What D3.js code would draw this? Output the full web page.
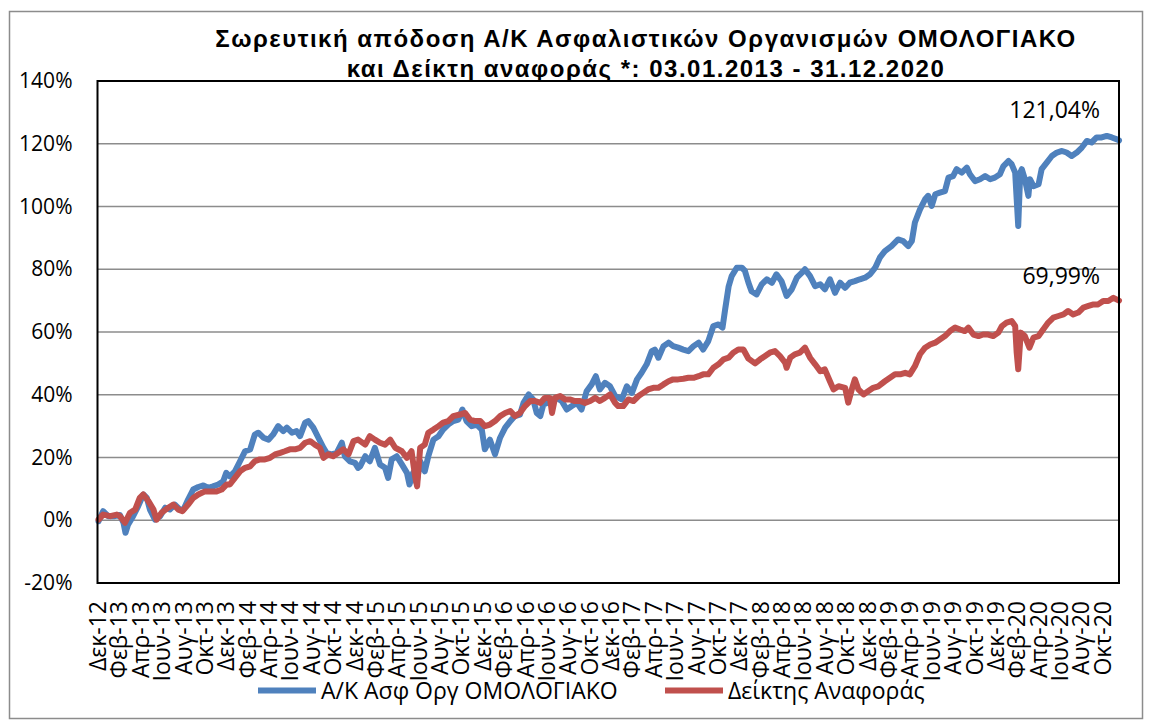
<!DOCTYPE html>
<html><head><meta charset="utf-8">
<script src="https://cdn.jsdelivr.net/npm/d3@7"></script>
<style>
html,body{margin:0;padding:0;background:#fff;}
svg{display:block;}
</style></head>
<body>
<svg id="chart" width="1152" height="723"></svg>
<script>
// ---------- DATA (x = trading-day index since 31.12.2012, y = cumulative return %) ----------
const titleLines = ["Σωρευτική απόδοση Α/Κ Ασφαλιστικών Οργανισμών ΟΜΟΛΟΓΙΑΚΟ",
                    "και Δείκτη αναφοράς *: 03.01.2013 - 31.12.2020"];
const seriesNames = ["Α/Κ Ασφ Οργ ΟΜΟΛΟΓΙΑΚΟ", "Δείκτης Αναφοράς"];
const endLabels = ["121,04%", "69,99%"];
const yTicks = [-20, 0, 20, 40, 60, 80, 100, 120, 140];
const totalDays = 2007;     // last trading-day index (31.12.2020)
const labelEvery = 42;      // a category label every 42 trading days
const xTickLabels = [
 "Δεκ-12",
 "Φεβ-13","Απρ-13","Ιουν-13","Αυγ-13","Οκτ-13","Δεκ-13",
 "Φεβ-14","Απρ-14","Ιουν-14","Αυγ-14","Οκτ-14","Δεκ-14",
 "Φεβ-15","Απρ-15","Ιουν-15","Αυγ-15","Οκτ-15","Δεκ-15",
 "Φεβ-16","Απρ-16","Ιουν-16","Αυγ-16","Οκτ-16","Δεκ-16",
 "Φεβ-17","Απρ-17","Ιουν-17","Αυγ-17","Οκτ-17","Δεκ-17",
 "Φεβ-18","Απρ-18","Ιουν-18","Αυγ-18","Οκτ-18","Δεκ-18",
 "Φεβ-19","Απρ-19","Ιουν-19","Αυγ-19","Οκτ-19","Δεκ-19",
 "Φεβ-20","Απρ-20","Ιουν-20","Αυγ-20","Οκτ-20"];

const fundDays = [2,11,21,34,44,51,55,60,70,80,90,97,103,113,123,133,142,152,162,169,178,188,198,208,218,227,237,247,253,260,270,280,290,300,309,316,326,336,345,355,365,372,382,391,398,408,414,424,434,444,450,460,470,480,486,496,506,512,516,526,535,545,555,565,571,578,588,598,608,613,620,627,634,643,650,660,670,679,689,699,709,717,725,735,745,755,761,771,781,791,801,811,820,830,837,847,856,863,870,876,883,893,902,912,922,932,942,951,961,971,979,987,997,1007,1017,1030,1040,1050,1060,1069,1079,1089,1095,1102,1112,1122,1131,1141,1151,1161,1171,1181,1190,1200,1210,1220,1228,1233,1240,1246,1256,1266,1272,1279,1285,1295,1305,1315,1325,1334,1344,1354,1364,1374,1384,1390,1400,1410,1420,1429,1439,1449,1459,1469,1478,1488,1498,1508,1518,1528,1537,1547,1560,1573,1583,1593,1600,1606,1616,1626,1632,1639,1646,1655,1665,1672,1681,1688,1698,1708,1714,1724,1734,1744,1754,1763,1773,1780,1790,1796,1803,1806,1809,1813,1816,1822,1829,1832,1839,1849,1855,1865,1875,1885,1895,1904,1914,1924,1934,1944,1953,1963,1973,1983,1993,2003,2007];
const fundValues = [-0.3,2.9,1.3,1.3,1.7,-0.8,-4.0,-1.4,1.3,4.5,8.2,7.1,3.4,0.2,1.3,4.0,3.4,5.0,3.4,3.4,6.6,9.8,10.6,11.1,10.3,10.8,11.4,12.4,15.1,14.0,15.6,18.8,22.0,22.6,27.3,27.9,26.3,25.7,27.3,30.0,28.4,29.5,27.9,28.4,26.8,31.1,31.6,29.5,26.3,23.1,21.5,21.0,21.5,24.7,20.4,18.8,18.3,16.7,17.2,20.4,18.8,23.1,17.8,16.7,13.5,19.4,20.4,17.8,15.1,11.4,15.1,11.9,18.8,15.6,20.4,25.7,26.8,28.9,30.5,31.6,32.1,35.3,31.6,30.0,30.5,28.9,22.6,25.7,21.0,26.3,29.5,31.6,33.2,33.7,37.4,40.1,38.5,34.2,33.2,36.9,37.4,38.0,39.0,38.0,35.3,36.4,37.4,35.3,41.1,43.3,45.9,41.7,43.8,42.7,39.6,38.5,42.7,40.6,44.9,47.0,49.7,53.9,54.4,51.8,55.5,56.6,55.5,55.0,54.4,53.9,55.5,56.6,54.4,57.1,61.9,62.4,61.4,67.0,74.5,77.8,80.5,80.5,79.5,75.7,73.0,72.0,75.2,76.8,75.7,78.4,76.2,71.5,73.6,77.3,78.9,80.0,77.8,74.6,75.2,73.6,76.8,72.5,75.7,74.1,75.7,76.2,76.8,77.3,78.4,80.5,83.7,85.8,87.4,89.5,89.0,87.4,89.0,94.9,99.1,102.3,103.4,100.2,103.9,104.4,104.9,109.2,109.7,111.9,110.8,112.4,110.3,108.1,108.7,109.7,108.7,109.2,110.3,112.9,114.5,113.5,110.8,102.3,93.8,110.8,111.9,108.7,103.4,108.7,106.5,107.1,111.9,114.0,116.1,117.2,117.7,117.2,116.1,117.2,118.8,120.9,120.4,122.0,122.0,122.5,122.0,121.4,121.04];

const benchDays = [2,11,25,38,44,54,64,74,83,90,100,110,116,126,139,149,159,167,178,188,198,211,224,234,244,254,260,270,280,290,300,309,319,329,339,349,359,368,378,388,398,408,418,427,437,444,453,463,473,483,493,503,512,526,535,545,555,565,575,585,598,608,617,624,628,634,643,650,660,670,679,689,699,712,722,732,742,752,761,771,781,791,801,811,820,830,840,850,860,870,879,889,893,899,909,919,928,938,948,958,968,978,987,997,1007,1017,1023,1033,1043,1053,1063,1072,1082,1092,1102,1112,1122,1131,1141,1151,1161,1171,1181,1190,1200,1210,1220,1230,1240,1249,1259,1269,1279,1292,1302,1311,1321,1331,1341,1351,1354,1361,1370,1380,1390,1400,1410,1420,1429,1439,1446,1456,1469,1475,1482,1488,1495,1505,1514,1524,1534,1547,1557,1567,1577,1587,1596,1606,1616,1626,1636,1646,1655,1665,1675,1685,1695,1704,1711,1721,1731,1740,1750,1760,1770,1777,1786,1796,1803,1806,1809,1814,1822,1831,1839,1849,1858,1868,1878,1888,1898,1907,1917,1927,1937,1947,1957,1966,1976,1986,1996,2007];
const benchValues = [0.2,1.8,1.3,1.8,1.3,-0.8,2.4,3.4,7.1,8.2,6.1,3.4,0.2,2.4,4.0,5.0,3.4,2.9,5.0,7.1,8.2,9.2,9.2,9.2,9.8,11.4,11.4,13.5,15.6,16.7,17.2,18.8,19.4,19.4,19.9,21.0,21.5,22.0,22.6,22.6,23.1,24.7,25.2,24.1,23.1,19.9,21.0,20.4,21.5,22.6,21.0,25.2,25.7,24.1,26.8,25.7,24.7,24.1,25.7,23.1,22.0,19.9,22.0,14.0,10.8,23.1,24.1,27.9,28.9,30.0,31.1,31.6,33.2,33.7,34.2,32.1,31.6,31.6,30.0,30.5,31.6,33.2,34.2,34.8,33.2,34.2,36.4,38.0,38.0,37.4,39.0,39.0,34.2,39.0,39.6,38.5,38.5,38.0,38.0,37.4,38.0,39.0,38.0,39.0,40.1,37.4,36.4,36.4,38.5,38.0,39.6,40.6,41.7,42.2,42.2,43.3,44.3,44.9,44.9,45.1,45.4,45.4,45.9,46.5,46.5,48.6,49.7,51.3,51.8,53.4,54.4,54.4,51.5,50.0,51.3,52.3,53.4,53.9,52.3,50.2,48.6,51.8,52.9,53.4,55.0,51.8,49.7,47.5,48.1,44.3,41.7,42.7,42.2,37.5,41.7,44.9,41.7,40.1,41.1,42.2,42.7,44.3,45.4,46.5,46.5,47.0,46.5,49.1,52.9,55.0,56.0,56.6,57.6,58.7,60.3,61.4,60.8,60.3,61.4,59.2,58.7,59.2,59.2,58.7,59.8,61.9,63.0,63.5,61.9,53.4,48.1,59.8,58.7,55.0,58.2,58.7,60.8,63.0,64.6,65.1,65.6,66.7,65.6,66.2,67.8,68.3,68.8,68.8,69.9,69.9,70.9,69.99];

// ---------- LAYOUT ----------
const svg = d3.select("#chart");
const L = 97.5, R = 1119, T = 81, B = 583;
const x = d3.scaleLinear().domain([0, totalDays]).range([L, R]);
const y = d3.scaleLinear().domain([-20, 140]).range([B, T]);
const blue = "#4F81BD", red = "#C0504D";
const labelFont = "'Open Sans', sans-serif";

// outer frame
svg.append("rect").attr("x", 9.5).attr("y", 11.5).attr("width", 1133).attr("height", 707)
  .attr("fill", "none").attr("stroke", "#8c8c8c").attr("stroke-width", 1.5);

// title
svg.selectAll("text.title").data(titleLines).join("text")
  .attr("class", "title")
  .attr("x", 646).attr("y", (d, i) => 47 + i * 30)
  .attr("text-anchor", "middle")
  .attr("font-family", "'Liberation Sans', Arial, sans-serif")
  .attr("font-weight", "bold").attr("font-size", 24).attr("letter-spacing", 1.5)
  .attr("fill", "#000").text(d => d);

// gridlines
svg.append("g").selectAll("line").data(yTicks.filter(d => d > -20 && d < 140)).join("line")
  .attr("x1", L).attr("x2", R).attr("y1", d => y(d)).attr("y2", d => y(d))
  .attr("stroke", "#8c8c8c").attr("stroke-width", 1.5);

// y axis
const yAxis = svg.append("g").attr("transform", `translate(${L},0)`)
  .call(d3.axisLeft(y).tickValues(yTicks).tickSize(0).tickPadding(25).tickFormat(d => d + "%"));
yAxis.select(".domain").remove();
yAxis.selectAll("text").attr("font-family", labelFont).attr("font-size", 21).attr("fill", "#000");

// x axis labels (category axis, one label every `labelEvery` trading days)
const xTickVals = xTickLabels.map((d, i) => i * labelEvery);
const xAxis = svg.append("g").attr("transform", `translate(0,${B})`)
  .call(d3.axisBottom(x).tickValues(xTickVals).tickSize(0).tickFormat((d, i) => xTickLabels[i]));
xAxis.select(".domain").remove();
xAxis.selectAll("text")
  .attr("font-family", labelFont).attr("font-size", 23).attr("fill", "#000")
  .attr("text-anchor", "end")
  .attr("transform", "rotate(-90)")
  .attr("x", -18).attr("y", 0).attr("dy", "0.35em");

// series lines
const line = d3.line().x(d => x(d[0])).y(d => y(d[1])).curve(d3.curveLinear);
const fund = fundDays.map((m, i) => [m, fundValues[i]]);
const bench = benchDays.map((m, i) => [m, benchValues[i]]);
svg.append("path").datum(fund).attr("d", line).attr("fill", "none")
  .attr("stroke", blue).attr("stroke-width", 6).attr("stroke-linejoin", "round").attr("stroke-linecap", "round");
svg.append("path").datum(bench).attr("d", line).attr("fill", "none")
  .attr("stroke", red).attr("stroke-width", 6).attr("stroke-linejoin", "round").attr("stroke-linecap", "round");

// plot border
svg.append("rect").attr("x", L).attr("y", T).attr("width", R - L).attr("height", B - T)
  .attr("fill", "none").attr("stroke", "#000").attr("stroke-width", 2);

// end labels
const endVals = [fundValues[fundValues.length - 1], benchValues[benchValues.length - 1]];
svg.selectAll("text.endlab").data(endLabels).join("text")
  .attr("class", "endlab")
  .attr("x", 1100).attr("y", (d, i) => y(endVals[i]) - (i === 0 ? 22 : 17))
  .attr("text-anchor", "end").attr("font-family", labelFont).attr("font-size", 23)
  .attr("fill", "#000").text(d => d);

// legend
const legendItems = [{name: seriesNames[0], color: blue, x0: 258}, {name: seriesNames[1], color: red, x0: 665}];
const lg = svg.append("g");
legendItems.forEach(it => {
  lg.append("line").attr("x1", it.x0).attr("x2", it.x0 + 58).attr("y1", 690.5).attr("y2", 690.5)
    .attr("stroke", it.color).attr("stroke-width", 6);
  lg.append("text").attr("x", it.x0 + 63).attr("y", 690.5).attr("dy", "0.35em")
    .attr("font-family", labelFont).attr("font-size", 23).attr("fill", "#000").text(it.name);
});
</script>
</body></html>
